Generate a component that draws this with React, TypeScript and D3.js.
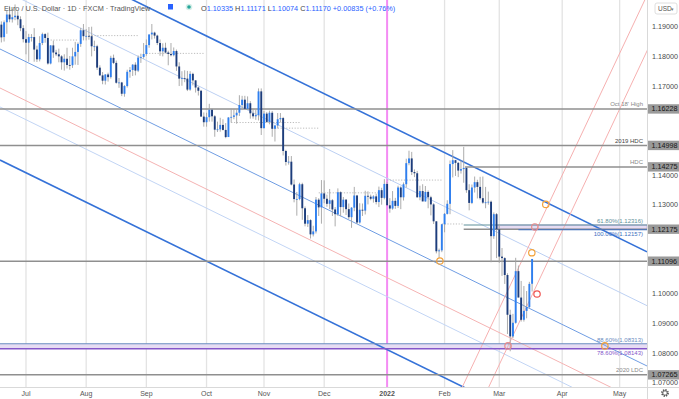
import React from 'react';
import * as d3 from 'd3';

// ---------- DATA (EUR/USD daily, [open, high, low, close]) ----------
const jun21 = [
  [1.1907, 1.1918, 1.1847, 1.1864], [1.1865, 1.1921, 1.185, 1.1915], [1.1915, 1.1955, 1.1876, 1.1941],
  [1.1941, 1.197, 1.1915, 1.1925], [1.1925, 1.196, 1.1914, 1.1932], [1.1932, 1.1975, 1.1922, 1.1937],
  [1.1937, 1.1952, 1.1905, 1.1925], [1.1925, 1.1935, 1.1885, 1.1895], [1.1895, 1.1905, 1.1847, 1.1858],
];
const jul21 = [
  [1.1858, 1.1885, 1.1807, 1.1846], [1.1846, 1.1876, 1.1782, 1.1865], [1.1865, 1.1875, 1.185, 1.1865],
  [1.1865, 1.1895, 1.1782, 1.1823], [1.1823, 1.1836, 1.1781, 1.179], [1.179, 1.1868, 1.1783, 1.1845],
  [1.1845, 1.188, 1.1838, 1.1875], [1.1875, 1.1878, 1.1846, 1.1862], [1.1862, 1.188, 1.1772, 1.1776],
  [1.1776, 1.1838, 1.1773, 1.1837], [1.1837, 1.1853, 1.1795, 1.1813], [1.1813, 1.1822, 1.1801, 1.1807],
  [1.1807, 1.1826, 1.178, 1.18], [1.18, 1.1804, 1.1755, 1.178], [1.178, 1.1807, 1.1752, 1.1792],
  [1.1792, 1.1829, 1.1759, 1.1771], [1.1771, 1.1801, 1.1755, 1.177], [1.177, 1.1829, 1.1761, 1.18],
  [1.18, 1.1849, 1.1772, 1.1815], [1.1815, 1.1847, 1.1771, 1.1842], [1.1842, 1.1896, 1.1832, 1.1888],
  [1.1888, 1.1909, 1.1854, 1.1868],
];
const aug21 = [
  [1.1868, 1.1892, 1.1854, 1.1869], [1.1869, 1.1899, 1.1856, 1.1868], [1.1868, 1.19, 1.18, 1.1834],
  [1.1834, 1.1853, 1.1818, 1.1834], [1.1834, 1.1839, 1.1754, 1.1762], [1.1762, 1.177, 1.1734, 1.1736],
  [1.1736, 1.1747, 1.1706, 1.1718], [1.1718, 1.174, 1.1705, 1.1739], [1.1739, 1.1745, 1.1715, 1.173],
  [1.173, 1.1802, 1.1725, 1.1795], [1.1795, 1.1806, 1.1774, 1.1778], [1.1778, 1.1786, 1.1708, 1.1711],
  [1.1711, 1.1727, 1.1694, 1.1712], [1.1712, 1.1714, 1.1666, 1.1674], [1.1674, 1.1703, 1.1664, 1.17],
  [1.17, 1.1755, 1.1695, 1.1748], [1.1748, 1.1764, 1.1728, 1.1754], [1.1754, 1.1774, 1.1734, 1.1772],
  [1.1772, 1.178, 1.1736, 1.1752], [1.1752, 1.1803, 1.1747, 1.1796], [1.1796, 1.1809, 1.1778, 1.1798],
  [1.1798, 1.1845, 1.1792, 1.1808],
];
const sep21 = [
  [1.1808, 1.1857, 1.1802, 1.1838], [1.1838, 1.1873, 1.1829, 1.1874], [1.1874, 1.1909, 1.1857, 1.188],
  [1.188, 1.1883, 1.186, 1.187], [1.187, 1.1873, 1.1838, 1.1845], [1.1845, 1.1857, 1.1802, 1.1817],
  [1.1817, 1.1844, 1.18, 1.1829], [1.1829, 1.1846, 1.181, 1.1813], [1.1813, 1.1819, 1.177, 1.1808],
  [1.1808, 1.1845, 1.18, 1.1804], [1.1804, 1.183, 1.18, 1.1818], [1.1818, 1.1823, 1.1751, 1.1766],
  [1.1766, 1.178, 1.17, 1.1725], [1.1725, 1.175, 1.1701, 1.1727], [1.1727, 1.1753, 1.1713, 1.1725],
  [1.1725, 1.1751, 1.1683, 1.1688], [1.1688, 1.175, 1.1684, 1.1741], [1.1741, 1.1745, 1.1702, 1.1719],
  [1.1719, 1.172, 1.1678, 1.1695], [1.1695, 1.1698, 1.1668, 1.1684], [1.1684, 1.1687, 1.1597, 1.1597],
  [1.1597, 1.1611, 1.1563, 1.1578],
];
const oct21 = [
  [1.1578, 1.161, 1.1563, 1.1595], [1.1595, 1.164, 1.158, 1.162], [1.162, 1.1625, 1.158, 1.1598],
  [1.1598, 1.1602, 1.1529, 1.1553], [1.1553, 1.158, 1.1545, 1.1554], [1.1554, 1.1593, 1.1546, 1.1569],
  [1.1569, 1.1588, 1.155, 1.1552], [1.1552, 1.1575, 1.1524, 1.1528], [1.1528, 1.1595, 1.153, 1.1594],
  [1.1594, 1.1624, 1.1577, 1.1596], [1.1596, 1.1623, 1.1588, 1.1601], [1.1601, 1.1621, 1.1573, 1.161],
  [1.161, 1.1669, 1.1599, 1.1636], [1.1636, 1.1667, 1.1619, 1.1654], [1.1654, 1.1667, 1.162, 1.1623],
  [1.1623, 1.1665, 1.1619, 1.1642], [1.1642, 1.1649, 1.159, 1.1608], [1.1608, 1.1624, 1.159, 1.1598],
  [1.1598, 1.162, 1.1586, 1.1602], [1.1602, 1.1692, 1.1584, 1.1682], [1.1682, 1.1692, 1.1535, 1.1558],
];
const nov21 = [
  [1.1558, 1.1616, 1.1557, 1.1607], [1.1607, 1.1612, 1.1576, 1.1579], [1.1579, 1.1617, 1.1571, 1.161],
  [1.161, 1.1616, 1.1529, 1.1556], [1.1556, 1.1569, 1.1513, 1.1567], [1.1567, 1.1609, 1.1557, 1.1588],
  [1.1588, 1.1609, 1.1577, 1.1592], [1.1592, 1.1596, 1.1466, 1.1481], [1.1481, 1.1485, 1.1432, 1.1444],
  [1.1444, 1.1464, 1.1435, 1.1445], [1.1445, 1.1464, 1.1365, 1.1368], [1.1368, 1.1385, 1.1308, 1.1319],
  [1.1319, 1.1343, 1.1263, 1.1319], [1.1319, 1.1374, 1.1315, 1.1369], [1.1369, 1.1374, 1.1249, 1.1288],
  [1.1288, 1.1294, 1.1227, 1.1236], [1.1236, 1.1265, 1.1225, 1.1248], [1.1248, 1.1251, 1.1186, 1.12],
  [1.12, 1.1229, 1.1193, 1.121], [1.121, 1.1326, 1.1203, 1.1317], [1.1317, 1.1322, 1.1262, 1.1291],
  [1.1291, 1.1383, 1.1236, 1.1338],
];
const dec21 = [
  [1.1338, 1.1382, 1.1305, 1.132], [1.132, 1.1334, 1.1293, 1.1303], [1.1303, 1.1353, 1.1285, 1.1315],
  [1.1315, 1.1319, 1.1262, 1.1284], [1.1284, 1.1292, 1.1227, 1.1268], [1.1268, 1.1355, 1.1262, 1.1342],
  [1.1342, 1.1345, 1.1261, 1.1292], [1.1292, 1.1326, 1.1273, 1.1317], [1.1317, 1.1319, 1.1265, 1.1285],
  [1.1285, 1.1304, 1.1252, 1.1258], [1.1258, 1.1292, 1.1222, 1.129], [1.129, 1.136, 1.1278, 1.1331],
  [1.1331, 1.1333, 1.1235, 1.124], [1.124, 1.1305, 1.1236, 1.1283], [1.1283, 1.1304, 1.1262, 1.128],
  [1.128, 1.1347, 1.1267, 1.133], [1.133, 1.1345, 1.1301, 1.1327], [1.1327, 1.1334, 1.1315, 1.132],
  [1.132, 1.1332, 1.1307, 1.1328], [1.1328, 1.1337, 1.1301, 1.1309], [1.1309, 1.1361, 1.1292, 1.1349],
  [1.1349, 1.1357, 1.13, 1.1323], [1.1323, 1.1386, 1.1318, 1.137],
];
const jan22 = [
  [1.137, 1.1377, 1.13, 1.1298], [1.1298, 1.1322, 1.1273, 1.1287], [1.1287, 1.1346, 1.1283, 1.1313],
  [1.1313, 1.1323, 1.1286, 1.1296], [1.1296, 1.1364, 1.1289, 1.1358], [1.1358, 1.1362, 1.1285, 1.1325],
  [1.1325, 1.1375, 1.1314, 1.1369], [1.1369, 1.1455, 1.1358, 1.144], [1.144, 1.1482, 1.1433, 1.1456],
  [1.1456, 1.1478, 1.14, 1.141], [1.141, 1.1419, 1.1393, 1.1406], [1.1406, 1.1414, 1.1324, 1.1325],
  [1.1325, 1.1364, 1.1315, 1.1346], [1.1346, 1.1369, 1.1312, 1.1311], [1.1311, 1.1363, 1.131, 1.1343],
  [1.1343, 1.1348, 1.1288, 1.1325], [1.1325, 1.133, 1.1264, 1.1301], [1.1301, 1.1305, 1.1235, 1.1244],
  [1.1244, 1.1244, 1.1136, 1.1143], [1.1143, 1.1152, 1.1121, 1.1146], [1.1146, 1.1235, 1.114, 1.1234],
];
const feb22 = [
  [1.1234, 1.1272, 1.1207, 1.1269], [1.1269, 1.1315, 1.1267, 1.1303], [1.1303, 1.1449, 1.1268, 1.1437],
  [1.1437, 1.1484, 1.1392, 1.145], [1.145, 1.1451, 1.1397, 1.1441], [1.1441, 1.1444, 1.1393, 1.1415],
  [1.1415, 1.1449, 1.1405, 1.142], [1.142, 1.1495, 1.1374, 1.1424], [1.1424, 1.1427, 1.134, 1.1349],
  [1.1349, 1.1369, 1.1281, 1.1306], [1.1306, 1.1368, 1.1302, 1.1358], [1.1358, 1.1395, 1.1341, 1.1376],
  [1.1376, 1.1384, 1.1321, 1.136], [1.136, 1.1394, 1.1317, 1.1322], [1.1322, 1.1395, 1.1303, 1.1307],
  [1.1307, 1.136, 1.1288, 1.1308], [1.1308, 1.1344, 1.13, 1.131], [1.131, 1.1314, 1.1106, 1.1194],
  [1.1194, 1.1274, 1.1185, 1.1268], [1.1268, 1.1272, 1.112, 1.1217],
];
const mar22 = [
  [1.1217, 1.1233, 1.1104, 1.1125], [1.1125, 1.1154, 1.106, 1.112], [1.112, 1.1123, 1.1033, 1.1063],
  [1.1063, 1.1069, 1.0864, 1.0929], [1.0929, 1.0946, 1.0806, 1.0856], [1.0856, 1.0932, 1.085, 1.0902],
  [1.0902, 1.1121, 1.0899, 1.1076], [1.1076, 1.1095, 1.0988, 1.0987], [1.0987, 1.1043, 1.0906, 1.0912],
  [1.0912, 1.1026, 1.0906, 1.0942], [1.0942, 1.1009, 1.0917, 1.0955], [1.0955, 1.104, 1.0952, 1.1033],
  [1.10335, 1.11171, 1.10074, 1.1117],
];

const monthLabels = ['Jul', 'Aug', 'Sep', 'Oct', 'Nov', 'Dec', '2022', 'Feb', 'Mar', 'Apr', 'May'];
const priceTicks = [1.19, 1.18, 1.17, 1.16, 1.15, 1.14, 1.13, 1.12, 1.11, 1.1, 1.09, 1.08, 1.07];

// horizontal levels: [price, start bar index, note]
const levelPrices = [1.16228, 1.14998, 1.14275, 1.12175, 1.11096, 1.07265];
const levelStarts = [-9.5, -9.5, 160.5, 160, -9.5, -9.5];
const levelNotes = ["Oct 18' High", '2019 HDC', 'HDC', '', '', '2020 LDC'];

// fibonacci levels
const fibPrices = [1.12316, 1.12157, 1.08313, 1.08143];
const fibStarts = [160, 180, -9.5, -9.5];
const fibNotes = ['61.80%(1.12316)', '100.00%(1.12157)', '88.60%(1.08313)', '78.60%(1.08143)'];

// descending channel lines: price at bar -9.5 and at bar 227
const chanStart = [1.22097, 1.20281, 1.18248, 1.16934, 1.16294, 1.14507];
const chanEnd = [1.11412, 1.09596, 1.07563, 1.06249, 1.05609, 1.03822];
// ascending slope lines: [bar0, price0, bar1, price1]
const slopeLines = [
  [159.5, 1.06856, 226.2, 1.199],
  [176.2, 1.08235, 226.2, 1.18026],
];
// dotted reference segments: [price, bar0, bar1]
const dottedSegs = [
  [1.1855, 9, 19], [1.187, 23, 41], [1.181, 44, 65], [1.1577, 75, 100],
  [1.1558, 90, 107], [1.134, 107, 129], [1.1383, 132, 152], [1.1235, 152, 160],
];
const orangeMarks = [[151.3, 1.11103], [184.9, 1.1138], [190, 1.1301], [211.6, 1.0824]];
const redMarks = [[176.2, 1.0824], [186, 1.1225], [186.8, 1.0999]];

const FONT = 'Liberation Sans, Arial, sans-serif';
const W = 679;
const H = 399;
const PR = 647;
const PB = 387;

function buildDates() {
  const out: Date[] = [];
  const d = new Date(2021, 5, 18);
  const end = new Date(2022, 4, 31);
  while (d <= end) {
    const wd = d.getDay();
    if (wd !== 0 && wd !== 6) out.push(new Date(d));
    d.setDate(d.getDate() + 1);
  }
  return out;
}

export default function App() {
  const candles = [...jun21, ...jul21, ...aug21, ...sep21, ...oct21, ...nov21, ...dec21, ...jan22, ...feb22, ...mar22]
    .map((c, k) => ({ i: k - 9, o: c[0], h: c[1], l: c[2], c: c[3] }));
  const dates = buildDates();
  const monthStarts: number[] = [];
  dates.forEach((d, k) => {
    const prev = dates[k - 1];
    if (k > 0 && prev.getMonth() !== d.getMonth()) monthStarts.push(k - 9);
  });
  const ticksX = monthStarts.filter((i) => i >= 0).slice(0, monthLabels.length);

  const x = d3.scaleLinear().domain([-9.5, 227]).range([0, PR]);
  const y = d3.scaleLinear().domain([1.19, 1.07]).range([26.7, 382.7]);
  const bw = 1.9;
  const lineGen = d3.line<number[]>().x((d) => x(d[0])).y((d) => y(d[1]));

  const chanStyles = [
    { s: '#3572d8', w: 1.6 },
    { s: '#bcd0f3', w: 1 },
    { s: '#6f9de3', w: 1 },
    { s: '#f5b3b3', w: 1 },
    { s: '#c2d5f5', w: 1 },
    { s: '#3572d8', w: 1.6 },
  ];
  const fibColors = ['#5e8f9a', '#3e6fc0', '#6a8cc0', '#8556c9'];
  const boxPrices = levelPrices;
  const visibleTicks = priceTicks.filter((p) => boxPrices.every((b) => Math.abs(y(p) - y(b)) > 7.5));

  return (
    <svg width={W} height={H} style={{ position: 'absolute', left: 0, top: 0, background: '#fff' }} fontFamily={FONT}>
      <defs>
        <clipPath id="plot">
          <rect x={0} y={0} width={PR} height={PB} />
        </clipPath>
      </defs>
      <rect x={0} y={0} width={W} height={H} fill="#fff" />
      <g clipPath="url(#plot)">
        {ticksX.map((i) => (
          <line key={'g' + i} x1={x(i)} x2={x(i)} y1={0} y2={PB} stroke="#e3e3e3" strokeWidth={1.3} />
        ))}
        <line x1={x(132)} x2={x(132)} y1={0} y2={PB} stroke="#f48cf4" strokeWidth={2} />
        {/* lower fib band */}
        <rect x={x(fibStarts[2])} y={y(fibPrices[2])} width={PR - x(fibStarts[2])} height={y(fibPrices[3]) - y(fibPrices[2])} fill="#e6dcf3" />
        {/* upper band */}
        <rect x={x(172.5)} y={y(fibPrices[0])} width={PR - x(172.5)} height={y(levelPrices[3]) - y(fibPrices[0])} fill="#e6dcf3" stroke="#b9a3dd" strokeWidth={0.8} />
        {chanStart.map((p, k) => (
          <path key={'c' + k} d={lineGen([[-9.5, p], [227, chanEnd[k]]]) || ''} stroke={chanStyles[k].s} strokeWidth={chanStyles[k].w} fill="none" />
        ))}
        {slopeLines.map((l, k) => {
          const m = (l[3] - l[1]) / (l[2] - l[0]);
          const p0 = [l[0] - 30, l[1] - 30 * m];
          const p1 = [l[2] + 30, l[3] + 30 * m];
          return <path key={'s' + k} d={lineGen([p0, p1]) || ''} stroke="#f6b0b0" strokeWidth={1} fill="none" />;
        })}
        {levelPrices.map((p, k) => (
          <line key={'l' + k} x1={x(levelStarts[k])} x2={PR} y1={y(p)} y2={y(p)} stroke="#8f8f8f" strokeWidth={1.5} />
        ))}
        {fibPrices.map((p, k) => (
          <line key={'f' + k} x1={x(fibStarts[k])} x2={PR} y1={y(p)} y2={y(p)} stroke={fibColors[k]} strokeWidth={k === 3 ? 1.4 : 1.1} />
        ))}
        {dottedSegs.map((s, k) => (
          <line key={'d' + k} x1={x(s[1])} x2={x(s[2])} y1={y(s[0])} y2={y(s[0])} stroke="#b5b5b5" strokeWidth={0.9} strokeDasharray="1.2,1.6" />
        ))}
        {candles.map((c) => {
          const up = c.c >= c.o;
          const top = y(Math.max(c.o, c.c));
          const bot = y(Math.min(c.o, c.c));
          return (
            <g key={'k' + c.i}>
              <line x1={x(c.i)} x2={x(c.i)} y1={y(c.h)} y2={y(c.l)} stroke="#a3a3a3" strokeWidth={0.9} />
              <rect x={x(c.i) - bw / 2} y={top} width={bw} height={Math.max(0.8, bot - top)} fill={up ? '#2e7ff0' : '#1d3d7c'} />
            </g>
          );
        })}
        {orangeMarks.map((m, k) => (
          <circle key={'o' + k} cx={x(m[0])} cy={y(m[1])} r={3.2} fill="none" stroke="#f3a23a" strokeWidth={1.2} />
        ))}
        {redMarks.map((m, k) => (
          <circle key={'r' + k} cx={x(m[0])} cy={y(m[1])} r={3.2} fill="none" stroke={k === 2 ? '#ef5350' : '#e88a8a'} strokeWidth={1.2} />
        ))}
        {levelNotes.map((t, k) =>
          t ? (
            <text key={'n' + k} x={643} y={y(levelPrices[k]) - 2.5} fontSize={6} textAnchor="end" fill={k === 1 ? '#444' : '#888'}>
              {t}
            </text>
          ) : null
        )}
        {fibNotes.map((t, k) => (
          <text key={'fn' + k} x={643} y={k % 2 === 0 ? y(fibPrices[k]) - 2 : y(fibPrices[k]) + 6.5} fontSize={6} textAnchor="end" fill={fibColors[k]}>
            {t}
          </text>
        ))}
      </g>

      {/* axes frame */}
      <line x1={PR + 0.5} x2={PR + 0.5} y1={0} y2={H} stroke="#d9d9d9" strokeWidth={1} />
      <line x1={0} x2={W} y1={PB + 0.5} y2={PB + 0.5} stroke="#d9d9d9" strokeWidth={1} />

      {/* price axis */}
      {visibleTicks.map((p) => (
        <text key={'t' + p} x={652} y={y(p) + 2.5} fontSize={7.2} fill="#4a4a4a">
          {p.toFixed(5)}
        </text>
      ))}
      {boxPrices.map((p) => (
        <g key={'b' + p}>
          <rect x={PR + 1} y={y(p) - 4.7} width={W - PR - 1} height={9.4} fill="#9a9a9a" />
          <text x={651.5} y={y(p) + 2.5} fontSize={7.2} fill="#151515">
            {p.toFixed(5)}
          </text>
        </g>
      ))}
      <rect x={655} y={3} width={22} height={11} rx={2} fill="#fff" stroke="#d5d5d5" strokeWidth={0.8} />
      <text x={658} y={11} fontSize={6.5} fill="#555">USD</text>
      <text x={671} y={11} fontSize={5} fill="#777">▾</text>

      {/* time axis */}
      {ticksX.map((i, k) => (
        <text key={'m' + i} x={x(i)} y={396} fontSize={7} textAnchor="middle" fill="#555" fontWeight={monthLabels[k] === '2022' ? 'bold' : 'normal'}>
          {monthLabels[k]}
        </text>
      ))}
      <circle cx={665} cy={393} r={3} fill="none" stroke="#555" strokeWidth={1.8} strokeDasharray="1.3,1.05" />
      <circle cx={665} cy={393} r={2.2} fill="none" stroke="#555" strokeWidth={0.8} />

      {/* title */}
      <text x={4} y={10.5} fontSize={7.3} fill="#555">Euro / U.S. Dollar · 1D · FXCM · TradingView</text>
      <rect x={168} y={4} width={5} height={5.5} fill="#2962ff" />
      <circle cx={189} cy={7} r={3.3} fill="#d7efe9" />
      <circle cx={189} cy={7} r={1.8} fill="#26a69a" />
      <text x={201} y={10.5} fontSize={7.3} fill="#444">
        O<tspan fill="#2962ff">1.10335</tspan> H<tspan fill="#2962ff">1.11171</tspan> L<tspan fill="#2962ff">1.10074</tspan> C
        <tspan fill="#2962ff">1.11170 +0.00835 (+0.76%)</tspan>
      </text>
    </svg>
  );
}
